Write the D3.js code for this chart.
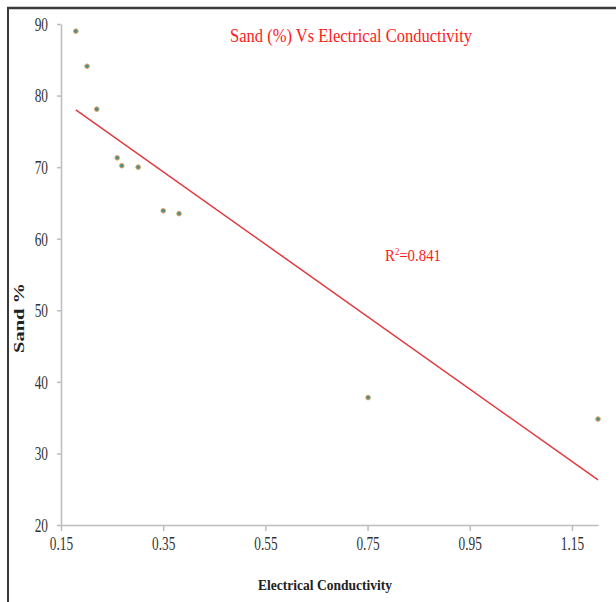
<!DOCTYPE html>
<html lang="en">
<head>
  <meta charset="UTF-8">
  <title>Sand vs Electrical Conductivity</title>
  <style>
    body { margin: 0; background: #ffffff; }
    svg { display: block; }
    text { font-family: "Liberation Serif", "Times New Roman", serif; }
  </style>
  <script type="text/javascript" src="https://d3js.org/d3.v7.min.js"></script>
</head>
<body>
</body>
<script type="text/javascript">

  // EC values and sand %
  var ec = [0.179, 0.201, 0.220, 0.260, 0.269, 0.301, 0.350, 0.381, 0.751, 1.201];
  var sand = [89.0, 84.1, 78.1, 71.3, 70.2, 70.0, 63.9, 63.5, 37.8, 34.8];

  // trend line ends as drawn
  var trendX = [0.179, 1.201];
  var trendY = [78.0, 26.3];

  var xTicks = [0.15, 0.35, 0.55, 0.75, 0.95, 1.15];
  var yTicks = [20, 30, 40, 50, 60, 70, 80, 90];

  var svg = d3.select("body")
    .append("svg")
    .attr("width", 616)
    .attr("height", 602);

  // frame (top and left only)
  svg.append("line")
    .attr("x1", 7).attr("y1", 8).attr("x2", 616).attr("y2", 8)
    .attr("stroke", "#3a3a3a").attr("stroke-width", 2.5);
  svg.append("line")
    .attr("x1", 8).attr("y1", 8).attr("x2", 8).attr("y2", 602)
    .attr("stroke", "#3a3a3a").attr("stroke-width", 2);

  var x = d3.scaleLinear().domain([0.15, 1.201]).range([61, 598]);
  var y = d3.scaleLinear().domain([20, 90]).range([525, 24]);

  var xAxis = svg.append("g")
    .attr("transform", "translate(0,525)")
    .call(d3.axisBottom(x).tickValues(xTicks).tickFormat(d3.format(".2f"))
      .tickSize(6).tickSizeOuter(0).tickPadding(6));

  var yAxis = svg.append("g")
    .attr("transform", "translate(61,0)")
    .call(d3.axisLeft(y).tickValues(yTicks).tickFormat(d3.format("d"))
      .tickSize(4).tickSizeOuter(0).tickPadding(9));

  [xAxis, yAxis].forEach(function(g) {
    g.select(".domain").attr("stroke", "#bdbdbd").attr("stroke-width", 1.5);
    g.selectAll(".tick line").attr("stroke", "#bdbdbd").attr("stroke-width", 1.5);
    g.selectAll(".tick text")
      .attr("fill", "#333")
      .style("font-family", "'Liberation Serif', serif")
      .style("font-size", "18px");
  });
  yAxis.selectAll(".tick text").attr("dy", "0.35em");

  // trend line
  svg.append("line")
    .attr("x1", x(trendX[0])).attr("y1", y(trendY[0]))
    .attr("x2", x(trendX[1])).attr("y2", y(trendY[1]))
    .attr("stroke", "#e0393e").attr("stroke-width", 1.5);

  // points
  svg.selectAll("circle.pt")
    .data(ec)
    .enter()
    .append("circle")
    .attr("class", "pt")
    .attr("cx", function(d) { return x(d); })
    .attr("cy", function(d, i) { return y(sand[i]); })
    .attr("r", 2.3)
    .attr("fill", "#4b8f8c")
    .attr("stroke", "#e3a35a")
    .attr("stroke-width", 1);

  // title
  svg.append("text")
    .attr("x", 351).attr("y", 42)
    .attr("text-anchor", "middle")
    .attr("fill", "#ff1a1a")
    .style("font-size", "19px")
    .attr("textLength", 242)
    .attr("lengthAdjust", "spacingAndGlyphs")
    .text("Sand (%) Vs Electrical  Conductivity");

  // R squared
  var r2 = svg.append("text")
    .attr("x", 385).attr("y", 261)
    .attr("fill", "#ff1a1a")
    .style("font-size", "17px")
    .attr("textLength", 56)
    .attr("lengthAdjust", "spacingAndGlyphs");
  r2.append("tspan").text("R");
  r2.append("tspan").attr("dy", -6).style("font-size", "10px").text("2");
  r2.append("tspan").attr("dy", 6).text("=0.841");

  // axis titles
  svg.append("text")
    .attr("x", 325).attr("y", 590)
    .attr("text-anchor", "middle")
    .attr("fill", "#222")
    .style("font-size", "15px")
    .style("font-weight", "bold")
    .attr("textLength", 134)
    .attr("lengthAdjust", "spacingAndGlyphs")
    .text("Electrical Conductivity");

  svg.append("text")
    .attr("transform", "translate(24,318) rotate(-90)")
    .attr("text-anchor", "middle")
    .attr("fill", "#222")
    .style("font-size", "14px")
    .style("font-weight", "bold")
    .attr("textLength", 70)
    .attr("lengthAdjust", "spacingAndGlyphs")
    .text("Sand %");

  // squeeze tick labels like the narrow source font
  svg.selectAll(".tick text").each(function() {
    var w = this.getComputedTextLength();
    d3.select(this)
      .attr("textLength", w * 0.74)
      .attr("lengthAdjust", "spacingAndGlyphs");
  });

</script>
</html>
